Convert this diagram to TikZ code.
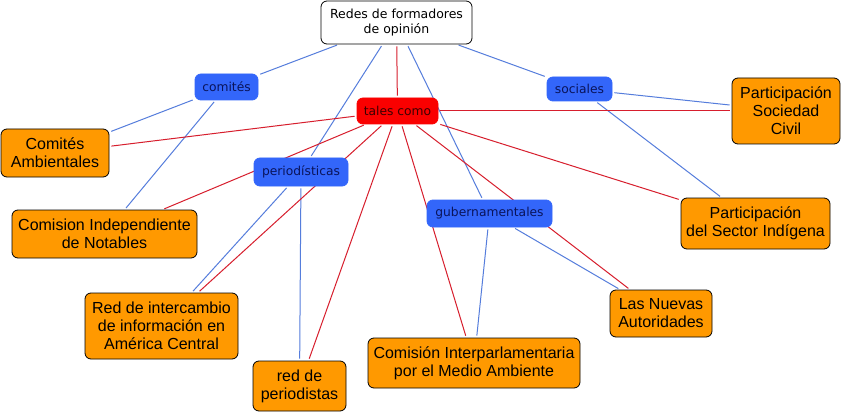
\documentclass[tikz,border=0pt]{standalone}
\usepackage{fontspec}
\setmainfont{Liberation Sans}
\newfontfamily\dejavu{DejaVu Sans}
\usetikzlibrary{backgrounds}
\definecolor{bnodefill}{RGB}{51,102,250}
\definecolor{bnodetext}{RGB}{10,20,90}
\definecolor{rnodefill}{RGB}{250,0,0}
\definecolor{rnodetext}{RGB}{60,0,0}
\definecolor{onodefill}{RGB}{255,153,0}
\definecolor{blueline}{RGB}{85,125,220}
\definecolor{redline}{RGB}{215,30,45}
\begin{document}
\begin{tikzpicture}[x=1pt,y=-1pt,
  basenode/.style={rounded corners=6pt, inner sep=0pt, align=center, line width=0.8pt},
  onode/.style={basenode, draw=black, fill=onodefill, font=\fontsize{16}{18}\selectfont},
  bnode/.style={basenode, draw=bnodefill, fill=bnodefill, text=bnodetext, font=\dejavu\fontsize{12.3}{14.5}\selectfont},
  rnode/.style={basenode, draw=rnodefill, fill=rnodefill, text=rnodetext, font=\dejavu\fontsize{12.3}{14.5}\selectfont},
  wnode/.style={basenode, draw=black, fill=white, font=\dejavu\fontsize{12.5}{14.5}\selectfont},
  bl/.style={draw=blueline, line width=1pt, shorten <=2pt, shorten >=2pt},
  rl/.style={draw=redline, line width=1pt, shorten <=2pt, shorten >=2pt}]
\useasboundingbox (0,0) rectangle (842,414);
% nodes
\node[wnode, minimum width=151pt, minimum height=43pt] (redes) at (396.5,22.5) {Redes de formadores\\de opinión};
\node[bnode, minimum width=63pt, minimum height=26pt] (comites) at (226.5,87) {comités};
\node[rnode, minimum width=81pt, minimum height=26pt] (tales) at (397.5,111) {tales como};
\node[bnode, minimum width=65pt, minimum height=24pt] (sociales) at (579.5,89) {sociales};
\node[bnode, minimum width=94pt, minimum height=28pt] (period) at (301,172) {periodísticas};
\node[bnode, minimum width=125pt, minimum height=27pt] (guber) at (489.5,213.5) {gubernamentales};
\node[onode, minimum width=108pt, minimum height=48pt] (ambient) at (55,153) {Comités\\Ambientales};
\node[onode, minimum width=108pt, minimum height=66pt] (civil) at (786,111) {Participación\\Sociedad\\Civil};
\node[onode, minimum width=149pt, minimum height=51pt] (indigena) at (755.5,223.5) {Participación\\del Sector Indígena};
\node[onode, minimum width=185pt, minimum height=48pt] (notables) at (104.5,234) {Comision Independiente\\de Notables};
\node[onode, minimum width=153pt, minimum height=66pt] (intercambio) at (161.5,326) {Red de intercambio\\de información en\\América Central};
\node[onode, minimum width=93pt, minimum height=50pt] (redper) at (299.5,386) {red de\\periodistas};
\node[onode, minimum width=212pt, minimum height=50pt] (interparl) at (474,363) {Comisión Interparlamentaria\\por el Medio Ambiente};
\node[onode, minimum width=102pt, minimum height=47pt] (nuevas) at (661,313.5) {Las Nuevas\\Autoridades};
% connectors
\begin{scope}[on background layer]
\fill[white] (0,0) rectangle (842,414);
\draw[bl] (redes) -- (comites);
\draw[bl] (redes) -- (period);
\draw[bl] (redes) -- (guber);
\draw[bl] (redes) -- (sociales);
\draw[bl] (comites) -- (ambient);
\draw[bl] (comites) -- (notables);
\draw[bl] (sociales) -- (civil);
\draw[bl] (sociales) -- (indigena);
\draw[bl] (period) -- (intercambio);
\draw[bl] (period) -- (redper);
\draw[bl] (guber) -- (interparl);
\draw[bl] (guber) -- (nuevas);
\draw[rl] (redes) -- (tales);
\draw[rl] (tales) -- (ambient);
\draw[rl] (tales) -- (notables);
\draw[rl] (tales) -- (intercambio);
\draw[rl] (tales) -- (redper);
\draw[rl] (tales) -- (interparl);
\draw[rl] (tales) -- (nuevas);
\draw[rl] (tales) -- (civil);
\draw[rl] (tales) -- (indigena);
\end{scope}
\end{tikzpicture}
\end{document}
